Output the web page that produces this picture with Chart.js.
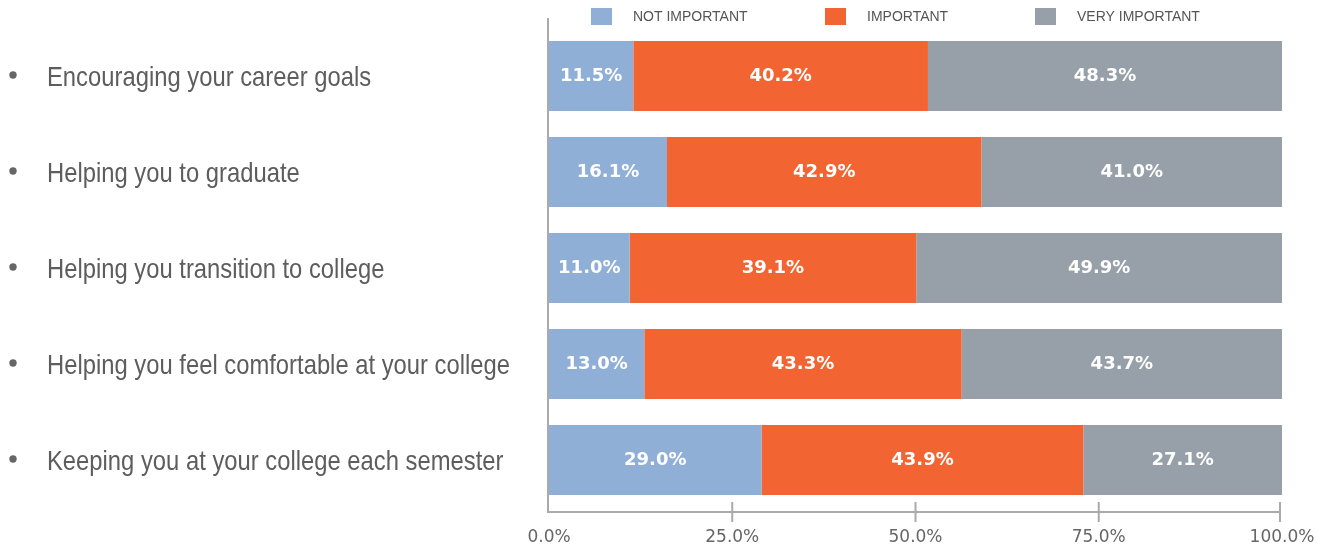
<!DOCTYPE html>
<html>
  <head>
    <meta charset="utf-8">
    <title>Importance chart</title>
    <script src="https://cdn.jsdelivr.net/npm/chart.js@4.4.1/dist/chart.umd.min.js"></script>
    <style>
      html, body { margin: 0; padding: 0; background: #fff; }
      #wrap { position: relative; width: 1318px; height: 550px; }
    </style>
  </head>
  <body>
    <div id="wrap"><canvas id="gr1"></canvas></div>
    <script>
    // data
    const categories = [
      "Encouraging your career goals",
      "Helping you to graduate",
      "Helping you transition to college",
      "Helping you feel comfortable at your college",
      "Keeping you at your college each semester"
    ];
    const seriesNames = ["NOT IMPORTANT", "IMPORTANT", "VERY IMPORTANT"];
    const notImportant = [11.5, 16.1, 11.0, 13.0, 29.0];
    const important = [40.2, 42.9, 39.1, 43.3, 43.9];
    const veryImportant = [48.3, 41.0, 49.9, 43.7, 27.1];
    const xTicks = [0, 25, 50, 75, 100];

    // styles
    const colors = ["#8fafd6", "#f26532", "#97a0a8"];
    const legendX = [591, 825, 1035];
    const axisColor = "#aaaaaa";

    // axis lines, tick marks, category labels, legend
    const decor = {
      id: "decor",
      beforeDatasetsDraw(chart) {
        const ctx = chart.ctx;
        const xs = chart.scales.x;
        const area = chart.chartArea;
        const x0 = xs.getPixelForValue(0) - 1;
        const yAxis = area.bottom + 4;
        ctx.save();
        ctx.strokeStyle = axisColor;
        ctx.lineWidth = 2;
        ctx.beginPath();
        ctx.moveTo(x0, area.top - 10);
        ctx.lineTo(x0, yAxis + 1);
        ctx.moveTo(x0, yAxis);
        ctx.lineTo(xs.getPixelForValue(100) - 2, yAxis);
        xTicks.forEach(v => {
          let px = xs.getPixelForValue(v);
          if (v === 0) return;
          if (v === 100) px -= 2;
          ctx.moveTo(px, yAxis - 10);
          ctx.lineTo(px, yAxis + 10);
        });
        ctx.stroke();
        ctx.restore();
      },
      afterDraw(chart) {
        const ctx = chart.ctx;
        const ys = chart.scales.y;
        ctx.save();

        // category labels with bullets
        categories.forEach((c, i) => {
          const y = ys.getPixelForValue(i);
          ctx.fillStyle = "#666";
          ctx.beginPath();
          ctx.arc(13, y - 1, 3.7, 0, Math.PI * 2);
          ctx.fill();
          ctx.fillStyle = "#5d5d5d";
          ctx.font = '28px "Liberation Sans", Arial, sans-serif';
          ctx.textAlign = "left";
          ctx.textBaseline = "alphabetic";
          ctx.save();
          ctx.translate(47, y + 10);
          ctx.scale(0.85, 1);
          ctx.fillText(c, 0, 0);
          ctx.restore();
        });

        // value labels
        ctx.fillStyle = "#fff";
        ctx.font = 'bold 18px "DejaVu Sans", sans-serif';
        ctx.textAlign = "center";
        ctx.textBaseline = "middle";
        chart.data.datasets.forEach((ds, di) => {
          const meta = chart.getDatasetMeta(di);
          meta.data.forEach((el, i) => {
            const p = el.getProps(["x", "y", "base"], true);
            ctx.fillText(ds.data[i].toFixed(1) + "%", (p.x + p.base) / 2, p.y);
          });
        });

        // legend
        ctx.font = '14px "Liberation Sans", Arial, sans-serif';
        ctx.textAlign = "left";
        ctx.textBaseline = "middle";
        seriesNames.forEach((n, i) => {
          ctx.fillStyle = colors[i];
          ctx.fillRect(legendX[i], 8, 21, 17);
          ctx.fillStyle = "#555";
          ctx.fillText(n, legendX[i] + 42, 17);
        });
        ctx.restore();
      }
    };

    let config = {
      type: "bar",
      data: {
        labels: categories,
        datasets: [
          { label: seriesNames[0], data: notImportant, backgroundColor: colors[0] },
          { label: seriesNames[1], data: important, backgroundColor: colors[1] },
          { label: seriesNames[2], data: veryImportant, backgroundColor: colors[2] }
        ]
      },
      options: {
        indexAxis: "y",
        animation: false,
        responsive: true,
        maintainAspectRatio: false,
        datasets: {
          bar: { barPercentage: 0.73, categoryPercentage: 1, borderWidth: 0 }
        },
        layout: { padding: { left: 549, top: 28, right: 36, bottom: 0 } },
        scales: {
          x: {
            stacked: true,
            min: 0,
            max: 100,
            afterBuildTicks: s => { s.ticks = xTicks.map(v => ({ value: v })); },
            afterFit: s => { s.height = 42; s.paddingLeft = 0; s.paddingRight = 0; },
            grid: { display: false, drawTicks: false },
            border: { display: false },
            ticks: {
              padding: 19,
              color: "#666",
              font: { family: '"DejaVu Sans", sans-serif', size: 17 },
              maxRotation: 0,
              callback: v => v.toFixed(1) + "%"
            }
          },
          y: {
            stacked: true,
            display: false,
            offset: true
          }
        },
        plugins: {
          legend: { display: false },
          tooltip: { enabled: false }
        }
      },
      plugins: [decor]
    };

    var canv = document.getElementById("gr1");
    var ctx = canv.getContext("2d");
    let graph1 = new Chart(ctx, config);
    </script>
  </body>
</html>
